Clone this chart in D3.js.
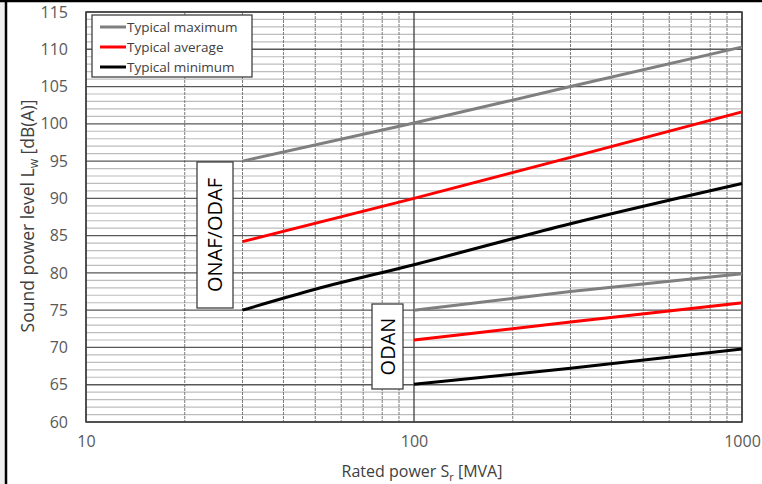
<!DOCTYPE html>
<html><head><meta charset="utf-8">
<script src="https://cdn.jsdelivr.net/npm/d3@7/dist/d3.min.js"></script>
<style>body{margin:0;background:#fff}svg{display:block}text{font-family:"Open Sans",sans-serif}</style>
</head><body><svg id="c" width="762" height="484"></svg>
<script>
const seriesNames = ["Typical maximum", "Typical average", "Typical minimum"];
const seriesColors = ["#7f7f7f", "#ff0000", "#000000"];
const onafMax = [[30, 95], [100, 100.1], [300, 105], [1000, 110.3]];
const onafAvg = [[30, 84.2], [100, 90], [300, 95.5], [1000, 101.6]];
const onafMin = [[30, 75], [50, 77.8], [100, 81.1], [300, 86.6], [1000, 92]];
const odanMax = [[100, 75], [300, 77.5], [1000, 79.9]];
const odanAvg = [[100, 71], [300, 73.4], [1000, 76]];
const odanMin = [[100, 65.05], [300, 67.2], [1000, 69.8]];
const xTicks = [10, 100, 1000];
const yTicks = [60, 65, 70, 75, 80, 85, 90, 95, 100, 105, 110, 115];

const svg = d3.select("#c");
// outer frame
svg.append("rect").attr("x",0).attr("y",0).attr("width",5).attr("height",484).attr("fill","#eeeeee");
svg.append("line").attr("x1",6).attr("x2",6).attr("y1",0).attr("y2",484).attr("stroke","#000").attr("stroke-width",2.5);
svg.append("line").attr("x1",0).attr("x2",762).attr("y1",1).attr("y2",1).attr("stroke","#000").attr("stroke-width",2.5);

const x = d3.scaleLog().domain([10, 1000]).range([86, 742]);
const y = d3.scaleLinear().domain([60, 115]).range([422, 12]);

const g = svg.append("g");
// minor horizontal grid
d3.range(60, 116, 1).filter(v => v % 5 !== 0).forEach(v => {
  g.append("line").attr("x1",86).attr("x2",742).attr("y1",y(v)).attr("y2",y(v))
   .attr("stroke","#bdbdbd").attr("stroke-width",1.2);
});
// minor vertical grid
const minorX = [];
[10,100].forEach(d => { for (let k=2;k<=9;k++) minorX.push(d*k); });
minorX.forEach(v => {
  g.append("line").attr("x1",x(v)).attr("x2",x(v)).attr("y1",12).attr("y2",422)
   .attr("stroke","#7a7a7a").attr("stroke-width",1).attr("stroke-dasharray","3,1");
});
// major horizontal grid
yTicks.forEach(v => {
  g.append("line").attr("x1",86).attr("x2",742).attr("y1",y(v)).attr("y2",y(v))
   .attr("stroke","#595959").attr("stroke-width",1.3);
});
// major vertical
xTicks.forEach(v => {
  g.append("line").attr("x1",x(v)).attr("x2",x(v)).attr("y1",12).attr("y2",422)
   .attr("stroke","#404040").attr("stroke-width",1.3);
});
// plot border
g.append("rect").attr("x",86).attr("y",12).attr("width",656).attr("height",410)
  .attr("fill","none").attr("stroke","#404040").attr("stroke-width",1.5);

// axes (labels only)
const yAxis = d3.axisLeft(y).tickValues(yTicks).tickSize(0).tickPadding(18);
const ya = svg.append("g").attr("transform","translate(86,0)").call(yAxis);
ya.select(".domain").remove();
ya.selectAll("text").attr("font-size",16).attr("fill","#595959").attr("font-family","'Open Sans',sans-serif");

const xAxis = d3.axisBottom(x).tickValues(xTicks).tickFormat(d3.format("d")).tickSize(0).tickPadding(14);
const xa = svg.append("g").attr("transform","translate(0,422)").call(xAxis);
xa.select(".domain").remove();
xa.selectAll("text").attr("font-size",16).attr("fill","#595959").attr("font-family","'Open Sans',sans-serif");

// axis titles
const xt = svg.append("text").attr("x",422).attr("y",477).attr("text-anchor","middle")
  .attr("font-size",16).attr("fill","#404040");
xt.append("tspan").text("Rated power S");
xt.append("tspan").attr("font-size",11).attr("dy",4).text("r");
xt.append("tspan").attr("dy",-4).text(" [MVA]");

const yt = svg.append("text").attr("transform","translate(34,216) rotate(-90)").attr("text-anchor","middle")
  .attr("font-size",17.5).attr("fill","#404040");
yt.append("tspan").text("Sound power level L");
yt.append("tspan").attr("font-size",12).attr("dy",4).text("w");
yt.append("tspan").attr("dy",-4).text(" [dB(A)]");

// lines
const line = d3.line().x(d => x(d[0])).y(d => y(d[1])).curve(d3.curveMonotoneX);
const sets = [[onafMax,0],[onafAvg,1],[onafMin,2],[odanMax,0],[odanAvg,1],[odanMin,2]];
sets.forEach(([data,i]) => {
  svg.append("path").datum(data).attr("d",line).attr("fill","none")
    .attr("stroke",seriesColors[i]).attr("stroke-width",3);
});

// annotation boxes
function vbox(x0,y0,w,h,label,fs){
  svg.append("rect").attr("x",x0).attr("y",y0).attr("width",w).attr("height",h)
    .attr("fill","#fff").attr("stroke","#404040").attr("stroke-width",1.3);
  svg.append("text").attr("transform",`translate(${x0+w/2+7},${y0+h/2}) rotate(-90)`)
    .attr("text-anchor","middle").attr("font-size",fs).attr("fill","#000").text(label);
}
vbox(197,162,36,146,"ONAF/ODAF",20);
vbox(372,304,31,85,"ODAN",20);

// legend
const lg = svg.append("g");
lg.append("rect").attr("x",92).attr("y",15).attr("width",160).attr("height",62)
  .attr("fill","#fff").attr("stroke","#404040").attr("stroke-width",1.3);
seriesNames.forEach((n,i) => {
  const yy = 27 + i*20;
  lg.append("line").attr("x1",100).attr("x2",126).attr("y1",yy).attr("y2",yy)
    .attr("stroke",seriesColors[i]).attr("stroke-width",3);
  lg.append("text").attr("x",127).attr("y",yy+5).attr("font-size",13.5).attr("fill","#404040").text(n);
});
</script></body></html>
